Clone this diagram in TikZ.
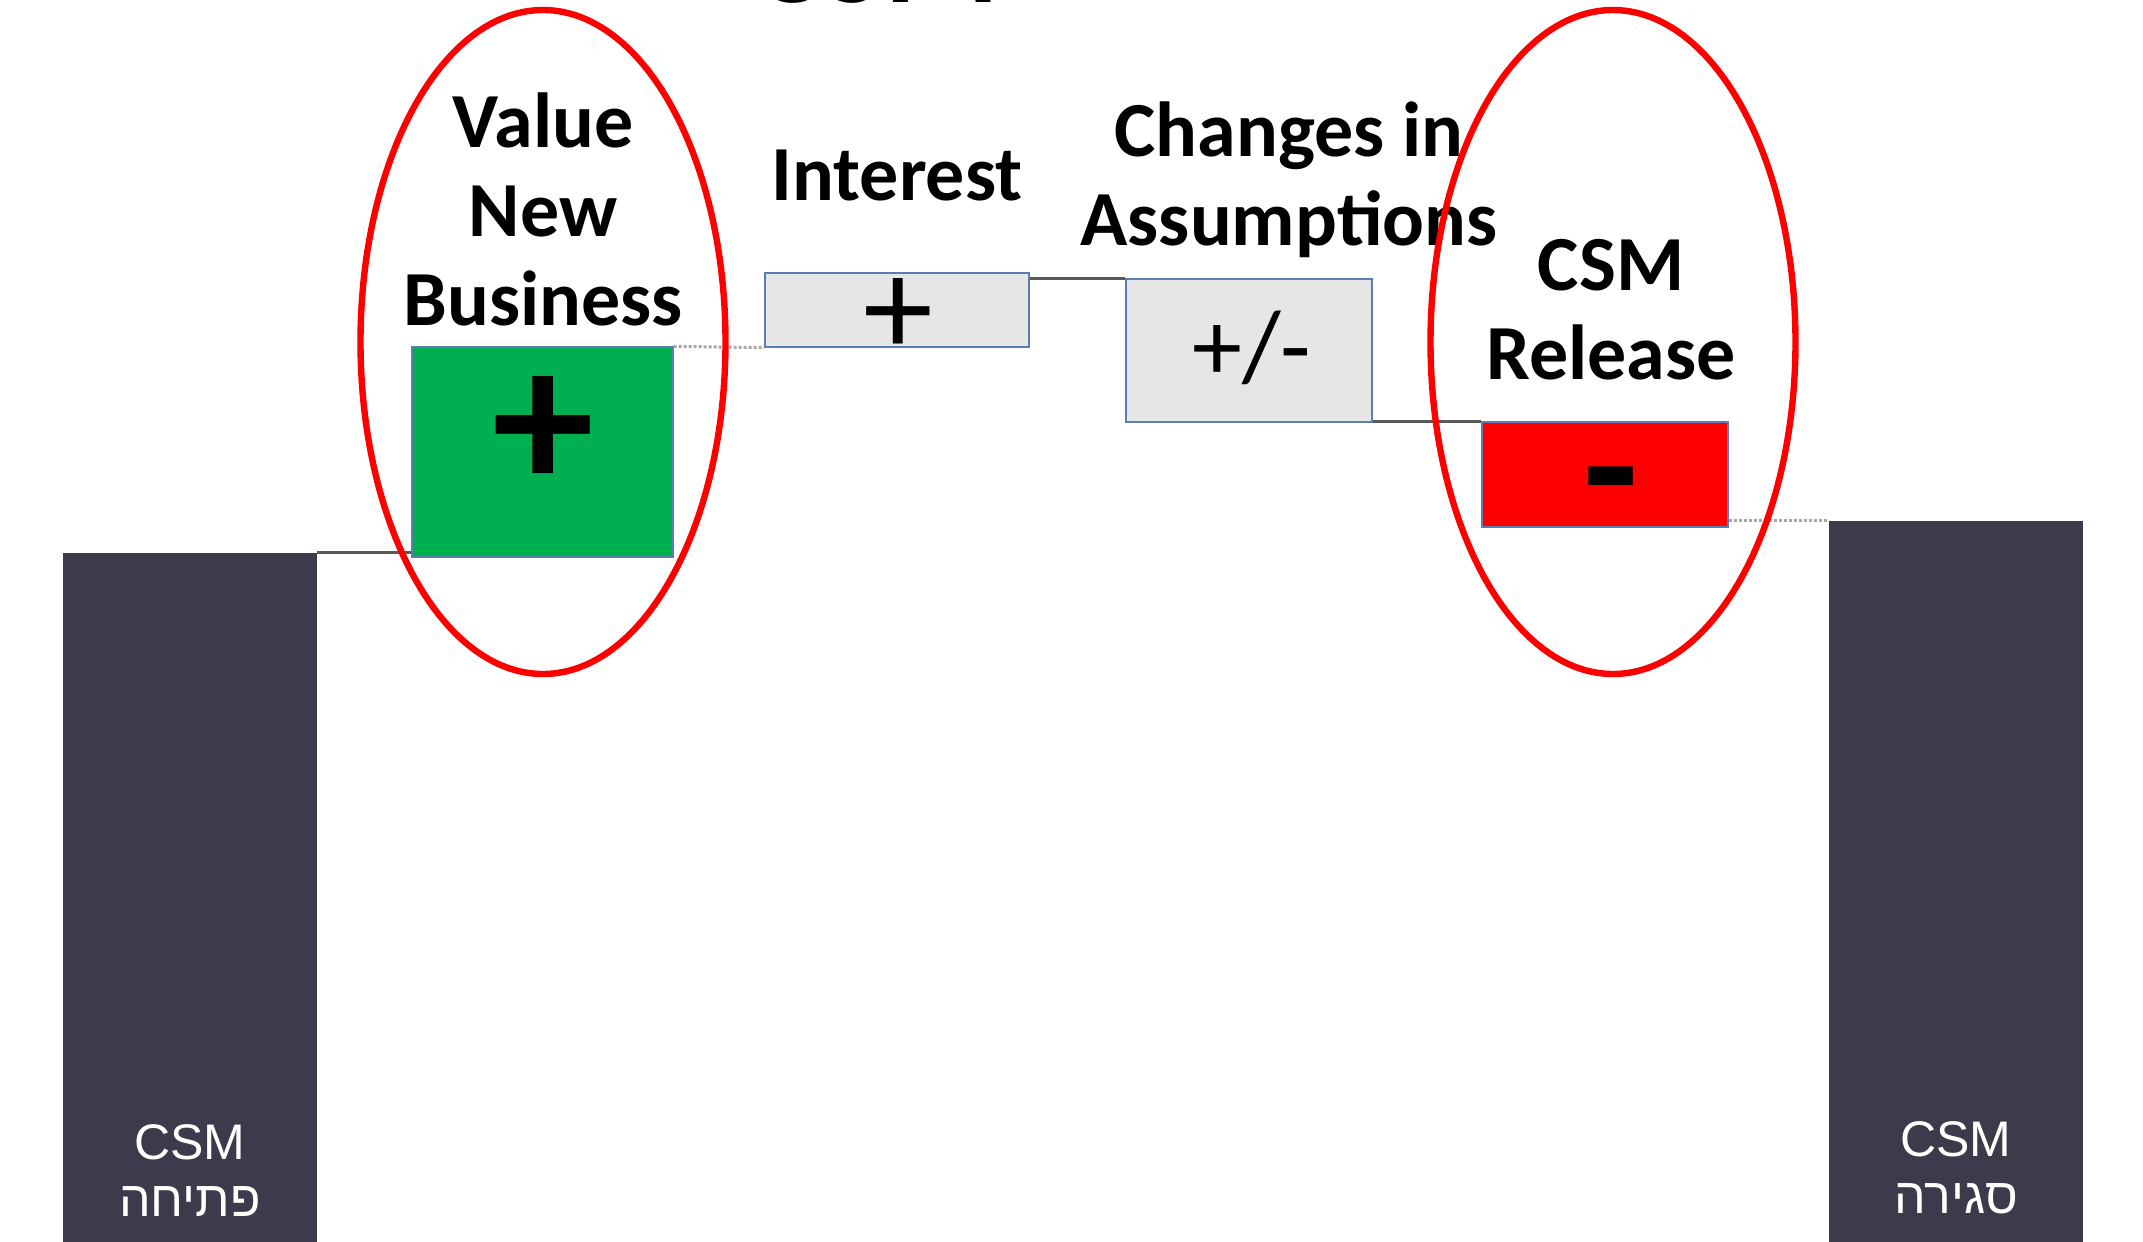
\documentclass[tikz,border=0pt]{standalone}
\usepackage{fontspec}
\setmainfont{Carlito}
\newfontfamily\barfont{Liberation Sans}
\newfontfamily\hebfont[Script=Hebrew]{Liberation Sans}
\TeXXeTstate=1
\usetikzlibrary{positioning,shapes.geometric}
\definecolor{barfill}{HTML}{3C3B4B}
\definecolor{nbgreen}{HTML}{00B050}
\definecolor{boxgray}{HTML}{E6E6E6}
\definecolor{boxedge}{HTML}{5B7DB1}
\definecolor{ringred}{HTML}{FF0000}

\begin{document}
\begin{tikzpicture}[x=0.5pt, y=-0.5pt,
    bar/.style={fill=barfill, inner sep=0pt, minimum width=127pt},
    barlbl/.style={text=white, align=center, inner sep=0pt,
                   font=\barfont\fontsize{25}{28.5}\selectfont},
    box/.style={draw=boxedge, line width=0.7pt, inner sep=0pt},
    lbl/.style={align=center, inner sep=0pt,
                font=\bfseries\fontsize{39}{44.5}\selectfont},
    sign/.style={inner sep=0pt},
    ring/.style={draw=ringred, line width=3.2pt, ellipse,
                 minimum width=182.5pt, minimum height=332pt},
    solidlink/.style={draw=black!65, line width=1.5pt},
    dotlink/.style={draw=black!35, line width=1.5pt, dash pattern=on 1.5pt off 1pt}
]
\useasboundingbox (0,0) rectangle (2143,1242);

\node[font=\bfseries\fontsize{66}{70}\selectfont, anchor=base west, inner sep=0pt] (title) at (752,3) {CSM};

\node[bar, minimum height=344.5pt] (open) at (190,897.5) {};
\node[bar, minimum height=360.5pt] (close) at (1956,881.5) {};
\node[barlbl] (openlbl) at (190,1171) {CSM\\{\hebfont\beginR פתיחה\endR}};
\node[barlbl] (closelbl) at (1956,1168) {CSM\\{\hebfont\beginR סגירה\endR}};

\node[box, fill=nbgreen, minimum width=130.5pt, minimum height=105pt] (nb) at (542.5,452) {};
\node[box, fill=boxgray, minimum width=132pt, minimum height=37pt] (intr) at (897,310) {};
\node[box, fill=boxgray, minimum width=123pt, minimum height=71.5pt] (chg) at (1249,350.5) {};
\node[box, fill=ringred, minimum width=123pt, minimum height=52.5pt] (rel) at (1605,474.5) {};

\node[sign, font=\bfseries\fontsize{102}{102}\selectfont] (nbsign) at (543,433) {+};
\node[sign, font=\fontsize{70}{70}\selectfont] (intrsign) at (898,317) {+};
\node[sign, font=\fontsize{50}{50}\selectfont] (chgsign) at (1252,348) {+/-};
\node[sign, font=\bfseries\fontsize{90}{90}\selectfont] (relsign) at (1611,497) {-};

\node[lbl] (nblbl) at (543,209) {Value\\New\\Business};
\node[lbl] (intrlbl) at (897,175) {Interest};
\node[lbl] (chglbl) at (1289,180) {Changes in\\Assumptions};
\node[lbl] (rellbl) at (1611,310) {CSM\\Release};

\draw[solidlink] (open.north east) -- (open.north east -| nb.west);
\draw[dotlink] (nb.north east) -- (intr.south west);
\draw[solidlink] (intr.east |- chg.north) -- (chg.north west);
\draw[solidlink] (chg.east |- rel.north) -- (rel.north west);
\draw[dotlink] (rel.east |- close.north) -- (close.north west);

\node[ring] (nbring) at (543,342) {};
\node[ring] (relring) at (1613,342) {};
\end{tikzpicture}
\end{document}
